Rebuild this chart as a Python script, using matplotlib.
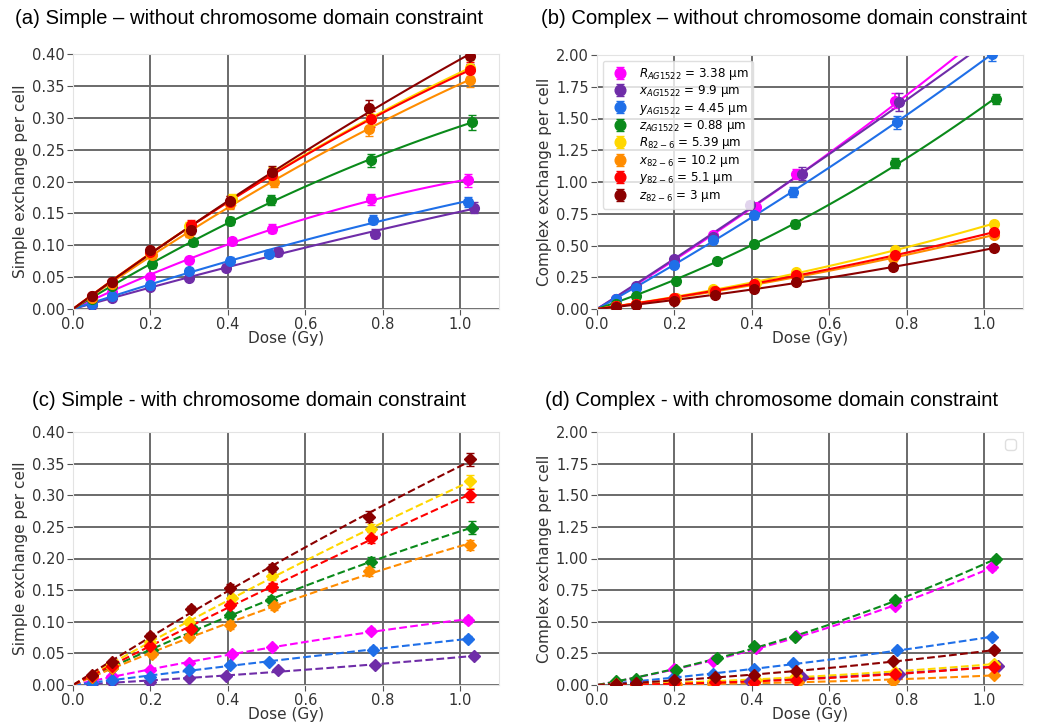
import matplotlib
matplotlib.use("Agg")
import matplotlib.pyplot as plt
import numpy as np

# series: labels and colours
labels = [r'$R_{AG1522}$ = 3.38 μm', r'$x_{AG1522}$ = 9.9 μm', r'$y_{AG1522}$ = 4.45 μm',
          r'$z_{AG1522}$ = 0.88 μm', r'$R_{82-6}$ = 5.39 μm', r'$x_{82-6}$ = 10.2 μm',
          r'$y_{82-6}$ = 5.1 μm', r'$z_{82-6}$ = 3 μm']
colors = ['#ff00ff', '#6f2da8', '#1f6fe8', '#0a8a1a', '#ffd700', '#ff8c00', '#ff0000', '#8b0000']

# doses (Gy) for each series
dose_R_ag = [0.05, 0.1, 0.2, 0.3, 0.41, 0.515, 0.77, 1.02]
dose_x_ag = [0.05, 0.1, 0.2, 0.3, 0.395, 0.53, 0.78, 1.035]
dose_y_ag = [0.05, 0.1, 0.2, 0.3, 0.405, 0.505, 0.775, 1.02]
dose_z_ag = [0.05, 0.1, 0.205, 0.31, 0.405, 0.51, 0.77, 1.03]
dose_R_82 = [0.05, 0.1, 0.2, 0.3, 0.41, 0.515, 0.77, 1.025]
dose_x_82 = [0.05, 0.1, 0.205, 0.3, 0.405, 0.52, 0.765, 1.025]
dose_y_82 = [0.05, 0.1, 0.2, 0.305, 0.405, 0.515, 0.77, 1.025]
dose_z_82 = [0.05, 0.1, 0.2, 0.305, 0.405, 0.515, 0.765, 1.025]
doses = [dose_R_ag, dose_x_ag, dose_y_ag, dose_z_ag, dose_R_82, dose_x_82, dose_y_82, dose_z_82]

# (a) simple, no domain constraint
simple_free = [
    [0.012, 0.027, 0.050, 0.077, 0.106, 0.126, 0.172, 0.202],
    [0.007, 0.018, 0.035, 0.049, 0.065, 0.089, 0.118, 0.159],
    [0.008, 0.020, 0.038, 0.060, 0.076, 0.087, 0.140, 0.168],
    [0.015, 0.036, 0.070, 0.105, 0.138, 0.171, 0.233, 0.293],
    [0.019, 0.041, 0.088, 0.130, 0.172, 0.212, 0.300, 0.378],
    [0.018, 0.040, 0.085, 0.120, 0.165, 0.200, 0.283, 0.360],
    [0.020, 0.042, 0.090, 0.132, 0.168, 0.210, 0.298, 0.375],
    [0.020, 0.042, 0.092, 0.124, 0.169, 0.215, 0.316, 0.397],
]
simple_free_err = [
    [0.002, 0.003, 0.004, 0.005, 0.006, 0.007, 0.009, 0.010],
    [0.002, 0.002, 0.003, 0.004, 0.005, 0.006, 0.007, 0.009],
    [0.002, 0.002, 0.003, 0.004, 0.005, 0.006, 0.007, 0.008],
    [0.003, 0.004, 0.005, 0.006, 0.007, 0.008, 0.010, 0.012],
    [0.003, 0.004, 0.006, 0.007, 0.009, 0.010, 0.012, 0.013],
    [0.003, 0.004, 0.006, 0.007, 0.008, 0.009, 0.011, 0.012],
    [0.003, 0.004, 0.006, 0.007, 0.009, 0.010, 0.012, 0.013],
    [0.003, 0.004, 0.006, 0.007, 0.009, 0.010, 0.012, 0.013],
]

# (b) complex, no domain constraint
complex_free = [
    [0.08, 0.17, 0.38, 0.58, 0.80, 1.06, 1.64, 2.20],
    [0.08, 0.18, 0.39, 0.57, 0.82, 1.065, 1.63, 2.15],
    [0.08, 0.165, 0.35, 0.54, 0.74, 0.92, 1.47, 2.01],
    [0.04, 0.10, 0.22, 0.38, 0.51, 0.67, 1.15, 1.655],
    [0.02, 0.04, 0.09, 0.157, 0.205, 0.288, 0.467, 0.671],
    [0.02, 0.04, 0.085, 0.145, 0.19, 0.255, 0.40, 0.585],
    [0.02, 0.04, 0.085, 0.145, 0.20, 0.27, 0.422, 0.605],
    [0.015, 0.035, 0.065, 0.11, 0.16, 0.21, 0.33, 0.48],
]
complex_free_err = [
    [0.01, 0.01, 0.02, 0.02, 0.03, 0.04, 0.06, 0.07],
    [0.01, 0.01, 0.02, 0.02, 0.03, 0.05, 0.07, 0.07],
    [0.01, 0.01, 0.02, 0.02, 0.03, 0.04, 0.05, 0.06],
    [0.01, 0.01, 0.01, 0.02, 0.02, 0.03, 0.04, 0.04],
    [0.005, 0.005, 0.01, 0.01, 0.01, 0.015, 0.02, 0.02],
    [0.005, 0.005, 0.01, 0.01, 0.01, 0.015, 0.02, 0.02],
    [0.005, 0.005, 0.01, 0.01, 0.01, 0.015, 0.02, 0.02],
    [0.005, 0.005, 0.01, 0.01, 0.01, 0.015, 0.02, 0.02],
]

# (c) simple, with domain constraint
simple_dom = [
    [0.005, 0.014, 0.024, 0.034, 0.049, 0.060, 0.086, 0.103],
    [0.002, 0.004, 0.005, 0.011, 0.015, 0.023, 0.032, 0.046],
    [0.003, 0.008, 0.013, 0.023, 0.032, 0.037, 0.056, 0.073],
    [0.012, 0.027, 0.056, 0.088, 0.110, 0.134, 0.195, 0.249],
    [0.015, 0.033, 0.068, 0.100, 0.137, 0.173, 0.246, 0.322],
    [0.013, 0.027, 0.049, 0.076, 0.095, 0.125, 0.180, 0.222],
    [0.014, 0.030, 0.062, 0.089, 0.127, 0.155, 0.233, 0.300],
    [0.016, 0.037, 0.078, 0.120, 0.154, 0.185, 0.266, 0.357],
]
simple_dom_err = [
    [0.001, 0.002, 0.002, 0.003, 0.003, 0.004, 0.004, 0.005],
    [0.001, 0.001, 0.001, 0.002, 0.002, 0.003, 0.003, 0.004],
    [0.001, 0.001, 0.002, 0.002, 0.003, 0.003, 0.004, 0.004],
    [0.002, 0.003, 0.004, 0.005, 0.006, 0.007, 0.008, 0.010],
    [0.002, 0.003, 0.004, 0.005, 0.006, 0.007, 0.009, 0.010],
    [0.002, 0.003, 0.004, 0.005, 0.006, 0.006, 0.007, 0.008],
    [0.002, 0.003, 0.004, 0.005, 0.006, 0.007, 0.009, 0.010],
    [0.002, 0.003, 0.004, 0.005, 0.006, 0.007, 0.009, 0.010],
]

# (d) complex, with domain constraint
complex_dom = [
    [0.02, 0.04, 0.13, 0.19, 0.29, 0.385, 0.625, 0.93],
    [0.002, 0.005, 0.015, 0.025, 0.032, 0.06, 0.085, 0.15],
    [0.01, 0.02, 0.063, 0.087, 0.123, 0.17, 0.278, 0.378],
    [0.03, 0.05, 0.12, 0.21, 0.305, 0.38, 0.67, 0.995],
    [0.004, 0.008, 0.02, 0.03, 0.04, 0.07, 0.10, 0.168],
    [0.001, 0.003, 0.006, 0.01, 0.015, 0.025, 0.035, 0.08],
    [0.003, 0.006, 0.014, 0.02, 0.027, 0.04, 0.085, 0.145],
    [0.008, 0.015, 0.04, 0.063, 0.079, 0.11, 0.186, 0.276],
]
complex_dom_err = [
    [0.005, 0.005, 0.01, 0.01, 0.01, 0.01, 0.015, 0.02],
    [0.002, 0.002, 0.004, 0.005, 0.005, 0.006, 0.008, 0.01],
    [0.003, 0.004, 0.006, 0.007, 0.008, 0.01, 0.012, 0.014],
    [0.005, 0.005, 0.01, 0.01, 0.01, 0.01, 0.015, 0.02],
    [0.002, 0.002, 0.004, 0.005, 0.005, 0.006, 0.008, 0.01],
    [0.002, 0.002, 0.003, 0.004, 0.004, 0.005, 0.006, 0.008],
    [0.002, 0.002, 0.004, 0.005, 0.005, 0.006, 0.008, 0.01],
    [0.003, 0.004, 0.006, 0.007, 0.008, 0.01, 0.012, 0.014],
]

titles = ['(a) Simple \u2013 without chromosome domain constraint',
          '(b) Complex \u2013 without chromosome domain constraint',
          '(c) Simple - with chromosome domain constraint',
          '(d) Complex - with chromosome domain constraint']

plt.rcParams['font.family'] = 'DejaVu Sans'
plt.rcParams['mathtext.fontset'] = 'dejavusans'

fig = plt.figure(figsize=(10.45, 7.24), dpi=100)

W, H = 1045, 724
def box(l, t, r, b):
    return [l / W, 1 - b / H, (r - l) / W, (b - t) / H]

ax_a = fig.add_axes(box(73, 54, 499, 309))
ax_b = fig.add_axes(box(597, 55, 1023, 309))
ax_c = fig.add_axes(box(73, 432, 499, 685))
ax_d = fig.add_axes(box(597, 432, 1023, 685))

panels = [
    (ax_a, simple_free, simple_free_err, 'o', '-', 0.40, 0.05, 'Simple exchange per cell'),
    (ax_b, complex_free, complex_free_err, 'o', '-', 2.0, 0.25, 'Complex exchange per cell'),
    (ax_c, simple_dom, simple_dom_err, 'D', '--', 0.40, 0.05, 'Simple exchange per cell'),
    (ax_d, complex_dom, complex_dom_err, 'D', '--', 2.0, 0.25, 'Complex exchange per cell'),
]

for ax, vals, errs, mk, ls, ymax, ystep, ylab in panels:
    for i in range(8):
        d = np.array(doses[i])
        v = np.array(vals[i])
        # linear-quadratic fit through the origin
        A = np.vstack([d, d ** 2]).T
        coef = np.linalg.lstsq(A, v, rcond=None)[0]
        xs = np.linspace(0, d[-1], 100)
        ax.plot(xs, coef[0] * xs + coef[1] * xs ** 2, color=colors[i], linestyle=ls, linewidth=1.5)
        ax.errorbar(d, v, yerr=errs[i], fmt=mk, color=colors[i], markersize=7 if mk == 'o' else 6,
                    capsize=3, elinewidth=1.2, label=labels[i], zorder=3)
    ax.set_xlim(0, 1.1)
    ax.set_ylim(0, ymax)
    ax.set_xticks(np.arange(0, 1.01, 0.2))
    ax.set_yticks(np.arange(0, ymax + 1e-9, ystep))
    ax.xaxis.set_major_formatter(plt.FormatStrFormatter('%.1f'))
    ax.yaxis.set_major_formatter(plt.FormatStrFormatter('%.2f'))
    ax.grid(True, color='#6a6a6a', linewidth=1.4)
    ax.set_axisbelow(True)
    for s in ax.spines.values():
        s.set_color('#e3e3e3')
    ax.tick_params(labelsize=10.5, colors='#333333', length=4, color='#555555', pad=2)
    ax.set_xlabel('Dose (Gy)', fontsize=11, color='#333333', labelpad=-1)
    ax.set_ylabel(ylab, fontsize=11, color='#333333', labelpad=3)

leg = ax_b.legend(loc='upper left', fontsize=8.6, frameon=True, borderpad=0.4, labelspacing=0.12,
                  handletextpad=0.6, markerscale=1.1)
leg.get_frame().set_edgecolor('#d8d8d8')

ax_d.legend(handles=[], loc='upper right', frameon=True).get_frame().set_edgecolor('#d8d8d8')

title_pos = [(15, 18), (541, 18), (32, 400), (545, 400)]
for t, (px, py) in zip(titles, title_pos):
    fig.text(px / W, 1 - py / H, t, fontsize=14.6, family='Liberation Sans', va='center', ha='left')

fig.savefig('out.png', dpi=100)
